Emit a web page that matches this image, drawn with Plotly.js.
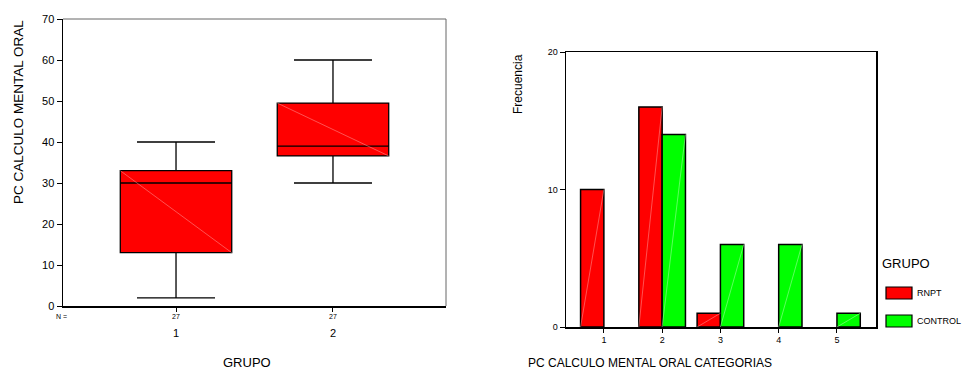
<!DOCTYPE html>
<html>
<head>
<meta charset="utf-8">
<script src="https://cdn.plot.ly/plotly-3.0.1.min.js"></script>
<style>html,body{margin:0;padding:0;background:#fff;}#chart{width:964px;height:372px;}</style>
</head>
<body>
<div id="chart"></div>
<script>
// ---- Box plot data (PC CALCULO MENTAL ORAL by GRUPO) ----
var boxGroups = [1, 2];
var boxTickLabels = ['1', '2'];
var boxN = [27, 27];
var boxLowerWhisker = [2, 30];
var boxQ1 = [13, 36.6];
var boxMedian = [30, 39];
var boxQ3 = [33, 49.5];
var boxUpperWhisker = [40, 60];

// ---- Bar chart data (frequency by category) ----
var barCategories = [1, 2, 3, 4, 5];
var seriesNames = ['RNPT', 'CONTROL'];
var rnptCounts = [10, 16, 1, 0, 0];
var controlCounts = [0, 14, 6, 6, 1];

var RED = '#ff0000', GREEN = '#00ff00';
var FONT = 'Arial, "Liberation Sans", sans-serif';

var BOXW = 0.71, BARW = 0.4;

function nz(arr) { return arr.map(function (v) { return v > 0 ? v : null; }); }

var traces = [];
traces.push({
  type: 'box', xaxis: 'x', yaxis: 'y',
  x: boxGroups, q1: boxQ1, median: boxMedian, q3: boxQ3,
  lowerfence: boxLowerWhisker, upperfence: boxUpperWhisker,
  width: BOXW, whiskerwidth: 0.7,
  fillcolor: RED, line: {color: '#000', width: 1.3},
  boxpoints: false, showlegend: false, hoverinfo: 'skip'
});
// faint diagonal in boxes
boxGroups.forEach(function (g, i) {
  traces.push({
    type: 'scatter', mode: 'lines', xaxis: 'x', yaxis: 'y',
    x: [g - BOXW / 2, g + BOXW / 2], y: [boxQ3[i], boxQ1[i]],
    line: {color: 'rgba(255,170,170,0.8)', width: 0.6},
    showlegend: false, hoverinfo: 'skip'
  });
});

traces.push({
  type: 'bar', xaxis: 'x2', yaxis: 'y2', name: seriesNames[0],
  x: barCategories, y: nz(rnptCounts), offset: -BARW, width: BARW,
  marker: {color: RED, line: {color: '#000', width: 1.5}},
  showlegend: false, hoverinfo: 'skip'
});
traces.push({
  type: 'bar', xaxis: 'x2', yaxis: 'y2', name: seriesNames[1],
  x: barCategories, y: nz(controlCounts), offset: 0, width: BARW,
  marker: {color: GREEN, line: {color: '#000', width: 1.5}},
  showlegend: false, hoverinfo: 'skip'
});
// faint diagonals in bars
barCategories.forEach(function (c, i) {
  if (rnptCounts[i] > 0) traces.push({
    type: 'scatter', mode: 'lines', xaxis: 'x2', yaxis: 'y2',
    x: [c - BARW, c], y: [0, rnptCounts[i]],
    line: {color: 'rgba(255,170,170,0.8)', width: 0.6}, showlegend: false, hoverinfo: 'skip'
  });
  if (controlCounts[i] > 0) traces.push({
    type: 'scatter', mode: 'lines', xaxis: 'x2', yaxis: 'y2',
    x: [c, c + BARW], y: [0, controlCounts[i]],
    line: {color: 'rgba(170,255,170,0.9)', width: 0.6}, showlegend: false, hoverinfo: 'skip'
  });
});

function px(x) { return x / 964; }
function py(y) { return 1 - y / 372; }

var annotations = [
  {text: 'PC CALCULO MENTAL ORAL', textangle: -90, xref: 'paper', yref: 'paper',
   x: px(19), y: py(112), xanchor: 'center', yanchor: 'middle',
   showarrow: false, font: {size: 13.5, color: '#000', family: FONT}},
  {text: 'GRUPO', xref: 'paper', yref: 'paper', x: px(247), y: 0, yanchor: 'bottom', xanchor: 'center',
   showarrow: false, font: {size: 13, color: '#000', family: FONT}},
  {text: 'N =', xref: 'paper', yref: 'paper', x: px(62), y: py(316), xanchor: 'center', yanchor: 'middle',
   showarrow: false, font: {size: 7, color: '#000', family: FONT}},
  {text: 'Frecuencia', textangle: -90, xref: 'paper', yref: 'paper',
   x: px(518), y: py(84), xanchor: 'center', yanchor: 'middle',
   showarrow: false, font: {size: 12, color: '#000', family: FONT}},
  {text: 'PC CALCULO MENTAL ORAL CATEGORIAS', xref: 'paper', yref: 'paper', x: px(526), y: 0,
   xanchor: 'left', yanchor: 'bottom', showarrow: false, font: {size: 12, color: '#000', family: FONT}},
  {text: 'GRUPO', xref: 'paper', yref: 'paper', x: px(880), y: py(263), xanchor: 'left', yanchor: 'middle',
   showarrow: false, font: {size: 13, color: '#000', family: FONT}},
  {text: seriesNames[0], xref: 'paper', yref: 'paper', x: px(915), y: py(293), xanchor: 'left', yanchor: 'middle',
   showarrow: false, font: {size: 9, color: '#000', family: FONT}},
  {text: seriesNames[1], xref: 'paper', yref: 'paper', x: px(915), y: py(321), xanchor: 'left', yanchor: 'middle',
   showarrow: false, font: {size: 9, color: '#000', family: FONT}}
];
boxGroups.forEach(function (g, i) {
  annotations.push({text: String(boxN[i]), xref: 'x', yref: 'paper', x: g, y: py(316),
    xanchor: 'center', yanchor: 'middle',
    showarrow: false, font: {size: 7, color: '#000', family: FONT}});
});

var shapes = [
  // grey frame top/right for box plot
  {type: 'line', xref: 'x domain', yref: 'y domain', x0: 0, x1: 1, y0: 1, y1: 1, line: {color: '#666', width: 1}},
  {type: 'line', xref: 'x domain', yref: 'y domain', x0: 1, x1: 1, y0: 0, y1: 1, line: {color: '#666', width: 1}},
  // legend swatches
  {type: 'rect', xref: 'paper', yref: 'paper', x0: px(886), x1: px(912), y0: py(299), y1: py(287),
   fillcolor: RED, line: {color: '#000', width: 1.2}},
  {type: 'rect', xref: 'paper', yref: 'paper', x0: px(886), x1: px(912), y0: py(327), y1: py(315),
   fillcolor: GREEN, line: {color: '#000', width: 1.2}}
];

var layout = {
  width: 964, height: 372,
  margin: {l: 0, r: 0, t: 0, b: 0},
  paper_bgcolor: '#fff', plot_bgcolor: '#fff',
  font: {family: FONT, color: '#000'},
  showlegend: false,
  xaxis: {
    domain: [px(63), px(446)], anchor: 'y', range: [0.28, 2.72],
    tickvals: boxGroups, ticktext: boxTickLabels, ticks: 'outside', ticklen: 4, tickcolor: '#000',
    ticklabelstandoff: 12, tickfont: {size: 11, color: '#000'},
    showline: true, linecolor: '#000', linewidth: 1.5, showgrid: false, zeroline: false
  },
  yaxis: {
    domain: [py(306), py(19)], anchor: 'x', range: [0, 70],
    tickvals: [0, 10, 20, 30, 40, 50, 60, 70], ticks: 'outside', ticklen: 5, tickcolor: '#000',
    tickfont: {size: 11, color: '#000'},
    showline: true, linecolor: '#000', linewidth: 1.5, showgrid: false, zeroline: false
  },
  xaxis2: {
    domain: [px(566), px(876)], anchor: 'y2', range: [0.35, 5.67],
    tickvals: barCategories, ticks: 'outside', ticklen: 4, tickcolor: '#000',
    tickfont: {size: 9, color: '#000'},
    showline: true, linecolor: '#000', linewidth: 1.5, mirror: true, showgrid: false, zeroline: false
  },
  yaxis2: {
    domain: [py(327), py(52)], anchor: 'x2', range: [0, 20],
    tickvals: [0, 10, 20], ticks: 'outside', ticklen: 5, tickcolor: '#000',
    tickfont: {size: 9, color: '#000'},
    showline: true, linecolor: '#000', linewidth: 1.5, mirror: true, showgrid: false, zeroline: false
  },
  annotations: annotations,
  shapes: shapes
};

Plotly.newPlot('chart', traces, layout, {staticPlot: true, displayModeBar: false});
</script>
</body>
</html>
